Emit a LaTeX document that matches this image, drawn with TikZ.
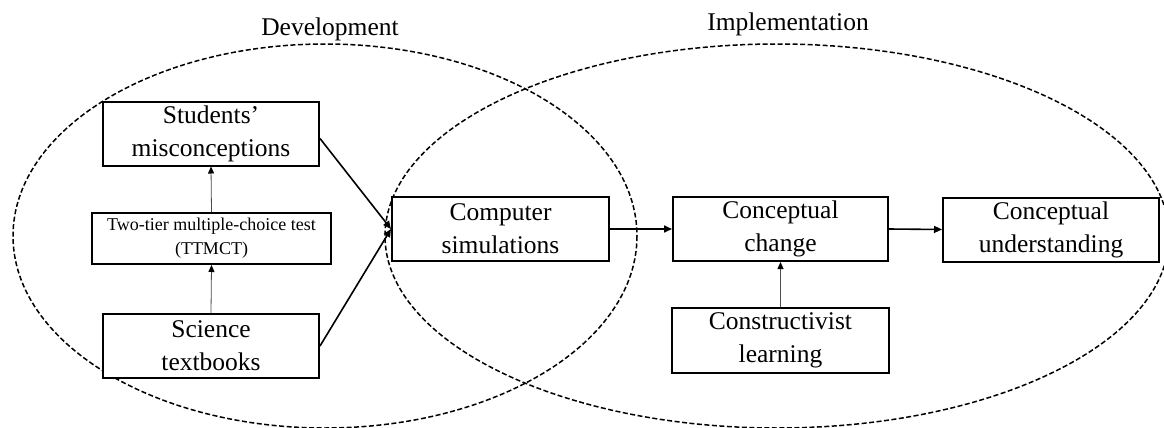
\documentclass[tikz,border=0pt]{standalone}
\usepackage{fontspec}
\setmainfont{Liberation Serif}
\usetikzlibrary{arrows.meta}
\begin{document}
\begin{tikzpicture}[x=1pt,y=-1pt,
  box/.style={draw=black,line width=2pt,fill=white,inner sep=0pt,align=center,
    minimum width=216pt,minimum height=64pt,font=\fontsize{25.5}{33}\selectfont},
  smallbox/.style={box,minimum width=239pt,minimum height=51pt,font=\fontsize{18}{24}\selectfont},
  region/.style={draw=black,line width=1.5pt,dash pattern=on 5pt off 2.5pt},
  lab/.style={font=\fontsize{25.5}{30}\selectfont,inner sep=0pt},
  thick arrow/.style={line width=1.6pt,-{Triangle[length=8pt,width=7pt]}},
  thin arrow/.style={line width=0.8pt,draw=black!70,-{Triangle[length=7pt,width=6pt,fill=black,color=black]}}]
\useasboundingbox (0,0) rectangle (1164,428);
% regions
\draw[region] (325,236) ellipse [x radius=312, y radius=192];
\draw[region] (777,236) ellipse [x radius=392, y radius=192];
\node[lab] (dev) at (330,29) {Development};
\node[lab] (imp) at (788,24) {Implementation};
% boxes
\node[box] (stud) at (211,133.5) {Students’\\misconceptions};
\node[smallbox] (ttm) at (211.5,238.5) {Two-tier multiple-choice test\\(TTMCT)};
\node[box] (sci) at (211,346) {Science\\textbooks};
\node[box,minimum width=217pt] (comp) at (500.5,229) {Computer\\simulations};
\node[box,minimum width=215pt] (chg) at (780.5,229) {Conceptual\\change};
\node[box] (und) at (1051,229.5) {Conceptual\\understanding};
\node[box,minimum width=217pt,minimum height=65pt] (con) at (780.5,340.5) {Constructivist\\learning};
% connectors
\draw[thin arrow] (ttm.north) -- (stud.south);
\draw[thin arrow] (sci.north) -- (ttm.south);
\draw[thin arrow] (con.north) -- (chg.south);
\draw[thick arrow] ([yshift=-5pt]stud.east) -- (comp.west);
\draw[thick arrow] (sci.east) -- (comp.west);
\draw[thick arrow] (comp.east) -- (chg.west);
\draw[thick arrow] (chg.east) -- (und.west);
\end{tikzpicture}
\end{document}
